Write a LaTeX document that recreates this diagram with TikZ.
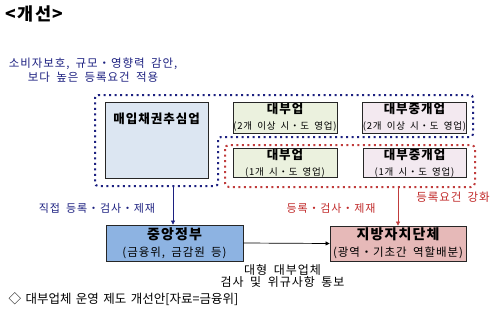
\documentclass[tikz,border=0pt]{standalone}
\usepackage{fontspec}
\setmainfont{Noto Sans CJK KR}[WordSpace=1.8, LetterSpace=8]
\newfontfamily\plainkr{Noto Sans CJK KR}[WordSpace=1.6]
\usepackage{tikz}
\usetikzlibrary{arrows.meta,calc}
\definecolor{navytxt}{RGB}{28,32,128}
\definecolor{redtxt}{RGB}{192,40,40}
\definecolor{reddot}{RGB}{192,60,60}
\definecolor{fillsky}{RGB}{220,230,242}
\definecolor{fillgreen}{RGB}{235,241,222}
\definecolor{fillpink}{RGB}{243,233,240}
\definecolor{fillgov}{RGB}{141,179,226}
\definecolor{filllocal}{RGB}{230,185,184}

\begin{document}
\begin{tikzpicture}[x=1pt, y=-1pt,
  box/.style={draw=black!85, line width=0.8pt, align=center, inner sep=0pt,
    font=\fontsize{9.5}{16}\selectfont},
  bigbox/.style={box, font=\fontsize{11.5}{17}\selectfont},
  head/.style={font=\fontsize{12.5}{16}\selectfont\bfseries},
  group/.style={line width=2pt, dash pattern=on 2pt off 3.5pt},
  tip/.style={-{Triangle[length=4pt,width=4pt]}, line width=0.7pt}]
  \useasboundingbox (0,0) rectangle (504,316);
  % Title and note
  \node[anchor=north west, font=\fontsize{17.5}{18}\selectfont\bfseries] (title) at (2,2) {<개선>};
  \node[navytxt, align=center, font=\fontsize{11.5}{14}\selectfont] (note) at (93,70)
    {소비자보호, 규모・영향력 감안,\\보다 높은 등록요건 적용};
  % Dotted groups
  \draw[navytxt, group, rounded corners=3pt]
    (95,95) -- (473,95) -- (473,137) -- (218,137) -- (218,186) -- (95,186) -- cycle;
  \draw[reddot, group, rounded corners=4pt] (225,145) rectangle (475,187);
  % Business types
  \node[box, fill=fillsky, minimum width=103, minimum height=76] (collect) at (156.5,140) {};
  \node[head] (collectT) at (156.5,119) {매입채권추심업};
  \node[box, fill=fillgreen, minimum width=104, minimum height=31] (lendA) at (285,117.5)
    {{\fontsize{12.5}{16}\selectfont\bfseries 대부업}\\(2개 이상 시・도 영업)};
  \node[box, fill=fillpink, minimum width=103, minimum height=31] (brokerA) at (414.5,117.5)
    {{\fontsize{12.5}{16}\selectfont\bfseries 대부중개업}\\(2개 이상 시・도 영업)};
  \node[box, fill=fillgreen, minimum width=104, minimum height=28] (lendB) at (285,163)
    {{\fontsize{12.5}{16}\selectfont\bfseries 대부업}\\(1개 시・도 영업)};
  \node[box, fill=fillpink, minimum width=103, minimum height=28] (brokerB) at (414.5,163)
    {{\fontsize{12.5}{16}\selectfont\bfseries 대부중개업}\\(1개 시・도 영업)};
  % Authorities
  \node[bigbox, fill=fillgov, minimum width=137, minimum height=36] (gov) at (174.5,243)
    {{\fontsize{14}{17}\selectfont\bfseries 중앙정부}\\(금융위, 금감원 등)};
  \node[bigbox, fill=filllocal, minimum width=136, minimum height=35] (local) at (398,243.5)
    {{\fontsize{14}{17}\selectfont\bfseries 지방자치단체}\\(광역・기초간 역할배분)};
  % Connectors
  \coordinate (blueTop) at (173,186);
  \coordinate (redTop) at (398,187);
  \draw[tip, navytxt] (blueTop) -- (blueTop |- gov.north);
  \draw[tip, reddot] (redTop) -- (local.north);
  \draw[tip, black] (gov.east) -- (local.west);
  % Connector labels
  \node[navytxt, font=\fontsize{11}{14}\selectfont] (direct) at (97,208) {직접 등록・검사・제재};
  \node[redtxt, font=\fontsize{11}{14}\selectfont] (regist) at (331,208) {등록・검사・제재};
  \node[redtxt, font=\fontsize{11.5}{14}\selectfont] (stricter) at (453,197) {등록요건 강화};
  \node[align=center, font=\fontsize{12}{12}\selectfont] (notify) at (282.5,276)
    {대형 대부업체\\검사 및 위규사항 통보};
  % Caption
  \node[anchor=west, font=\plainkr\fontsize{12.5}{14}\selectfont] (caption) at (5,299)
    {◇ 대부업체 운영 제도 개선안[자료=금융위]};
\end{tikzpicture}
\end{document}
